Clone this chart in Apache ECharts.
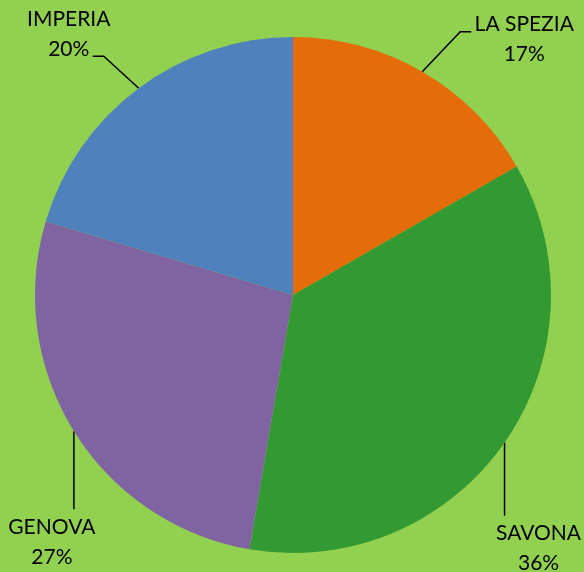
<!DOCTYPE html>
<html>
<head>
<meta charset="utf-8">
<script src="https://cdn.jsdelivr.net/npm/echarts@6/dist/echarts.min.js"></script>
<style>
html,body{margin:0;padding:0;background:#92d050;}
#chart{width:584px;height:572px;}
</style>
</head>
<body>
<div id="chart"></div>
<script>
// Data
var categories = ['LA SPEZIA', 'SAVONA', 'GENOVA', 'IMPERIA'];
var values = [16.7, 36.0, 26.9, 20.4];
var colors = ['#e46c0a', '#339933', '#8064a2', '#4f81bd'];

// Label layout offsets relative to the slice's outer anchor point (style only)
var elbowOffsets = [[38, -40], [0, 73], [0, 78], [-35, -32]];
var endOffsets   = [[49, -40], [0, 73], [0, 78], [-46, -32]];
var labelOffsets = [[102, -32.5], [34, 106], [-22, 111.5], [-70, -54]];

var chart = echarts.init(document.getElementById('chart'), null, {renderer: 'canvas'});
var option = {
  backgroundColor: '#92d050',
  animation: false,
  series: [{
    type: 'pie',
    center: [293, 295],
    radius: 258,
    startAngle: 90,
    clockwise: true,
    percentPrecision: 0,
    avoidLabelOverlap: false,
    data: categories.map(function (c, i) {
      return {name: c, value: values[i], itemStyle: {color: colors[i]}};
    }),
    itemStyle: {borderWidth: 0},
    label: {
      show: true,
      position: 'outside',
      formatter: '{b}\n{d}%',
      fontFamily: 'Lato, "Open Sans", sans-serif',
      fontSize: 21,
      lineHeight: 30,
      color: '#000'
    },
    labelLine: {
      show: true,
      length: 20,
      length2: 10,
      lineStyle: {color: '#000', width: 1.5}
    },
    labelLayout: function (params) {
      var i = params.dataIndex;
      var p0 = params.labelLinePoints[0];
      var e = elbowOffsets[i], f = endOffsets[i], l = labelOffsets[i];
      return {
        x: p0[0] + l[0],
        y: p0[1] + l[1],
        align: 'center',
        verticalAlign: 'middle',
        labelLinePoints: [
          [p0[0], p0[1]],
          [p0[0] + e[0], p0[1] + e[1]],
          [p0[0] + f[0], p0[1] + f[1]]
        ]
      };
    }
  }]
};
chart.setOption(option);
</script>
</body>
</html>
